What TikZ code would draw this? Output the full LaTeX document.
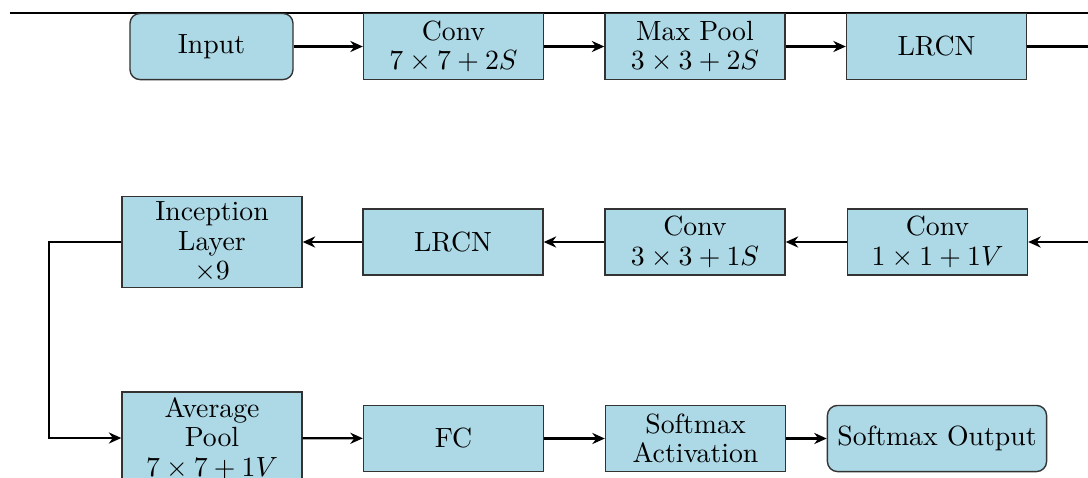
\documentclass[tikz,border=0pt]{standalone}
\usetikzlibrary{arrows.meta}
\definecolor{boxblue}{HTML}{ADD8E6}
\tikzset{
  layer/.style={draw=black!80, fill=boxblue, line width=0.5pt,
    minimum width=64.8pt, minimum height=23.8pt, align=center,
    font=\fontsize{10}{10.6}\selectfont, inner sep=2pt},
  tall/.style={layer, minimum height=31.5pt},
  terminal/.style={layer, rounded corners=3.6pt, inner xsep=3.6pt},
  flow/.style={line width=0.8pt, -{Stealth[length=4.5pt,width=4pt]}},
  link/.style={line width=0.8pt},
}
\begin{document}
\begin{tikzpicture}[x=0.36pt,y=-0.36pt]
\useasboundingbox (0,0) rectangle (1088,477);

% frame rule along the top
\coordinate (ruleL) at (10,12.7);
\coordinate (ruleR) at (1088,12.7);
\draw[line width=0.6pt] (ruleL) -- (ruleR);

% first row
\node[terminal, minimum width=58.7pt] (input) at (211.5,46.5) {Input};
\node[layer] (conv1) at (453.5,46.5) {Conv\\$7\times7+2S$};
\node[layer] (pool1) at (695,46.5) {Max Pool\\$3\times3+2S$};
\node[layer] (lrcn1) at (936.5,46.5) {LRCN};

% second row
\node[tall] (incep) at (212,242) {Inception\\Layer\\$\times9$};
\node[layer] (lrcn2) at (453,242) {LRCN};
\node[layer] (conv3) at (695,242) {Conv\\$3\times3+1S$};
\node[layer] (conv2) at (937.5,242) {Conv\\$1\times1+1V$};

% third row
\node[tall] (avg) at (212,438) {Average\\Pool\\$7\times7+1V$};
\node[layer] (fc) at (453.5,438.5) {FC};
\node[layer] (act) at (695.5,438.5) {Softmax\\Activation};
\node[terminal] (out) at (937,438.5) {Softmax Output};

% row wrap-around ends
\coordinate (exitR) at (1088,46.5);
\coordinate (entR) at (1088,242);

% connectors
\draw[flow] (input) -- (conv1);
\draw[flow] (conv1) -- (pool1);
\draw[flow] (pool1) -- (lrcn1);
\draw[link] (lrcn1) -- (exitR);

\draw[flow] (entR) -- (conv2);
\draw[flow] (conv2) -- (conv3);
\draw[flow] (conv3) -- (lrcn2);
\draw[flow] (lrcn2) -- (incep);

\draw[flow] (incep.west) -- ++(-72,0) |- (avg.west);
\draw[flow] (avg) -- (fc);
\draw[flow] (fc) -- (act);
\draw[flow] (act) -- (out);
\end{tikzpicture}
\end{document}
